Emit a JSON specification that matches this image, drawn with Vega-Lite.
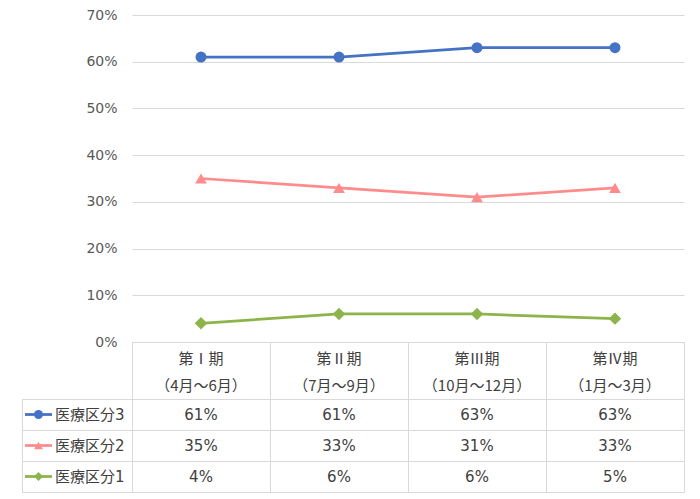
{
  "$schema": "https://vega.github.io/schema/vega-lite/v6.json",
  "autosize": {"type": "pad"},
  "padding": {"left": 19, "top": 8, "right": 15, "bottom": 7},
  "background": "white",
  "config": {
    "view": {"stroke": null},
    "font": "DejaVu Sans, Noto Sans CJK JP",
    "text": {"font": "DejaVu Sans, Noto Sans CJK JP"}
  },
  "datasets": {
    "rates": [
      {"period": "第Ⅰ期", "series": "医療区分3", "value": 0.61},
      {"period": "第Ⅱ期", "series": "医療区分3", "value": 0.61},
      {"period": "第Ⅲ期", "series": "医療区分3", "value": 0.63},
      {"period": "第Ⅳ期", "series": "医療区分3", "value": 0.63},
      {"period": "第Ⅰ期", "series": "医療区分2", "value": 0.35},
      {"period": "第Ⅱ期", "series": "医療区分2", "value": 0.33},
      {"period": "第Ⅲ期", "series": "医療区分2", "value": 0.31},
      {"period": "第Ⅳ期", "series": "医療区分2", "value": 0.33},
      {"period": "第Ⅰ期", "series": "医療区分1", "value": 0.04},
      {"period": "第Ⅱ期", "series": "医療区分1", "value": 0.06},
      {"period": "第Ⅲ期", "series": "医療区分1", "value": 0.06},
      {"period": "第Ⅳ期", "series": "医療区分1", "value": 0.05}
    ],
    "periods": [
      {"period": "第Ⅰ期", "label": "第Ⅰ期\n（4月～6月）"},
      {"period": "第Ⅱ期", "label": "第Ⅱ期\n（7月～9月）"},
      {"period": "第Ⅲ期", "label": "第Ⅲ期\n（10月～12月）"},
      {"period": "第Ⅳ期", "label": "第Ⅳ期\n（1月～3月）"}
    ],
    "seriesList": [
      {"series": "医療区分3"},
      {"series": "医療区分2"},
      {"series": "医療区分1"}
    ]
  },
  "columns": 2,
  "spacing": 0,
  "bounds": "flush",
  "concat": [
    {
      "width": 110, "height": 327,
      "data": {"values": [{}]},
      "mark": {"type": "text"},
      "encoding": {"text": {"value": ""}}
    },
    {
      "width": 552, "height": 327,
      "data": {"name": "rates"},
      "encoding": {
        "x": {"field": "period", "type": "nominal", "sort": ["第Ⅰ期", "第Ⅱ期", "第Ⅲ期", "第Ⅳ期"], "scale": {"type": "point", "padding": 0.5}, "axis": null},
        "y": {
          "field": "value", "type": "quantitative",
          "scale": {"domain": [0, 0.7]},
          "axis": {"values": [0, 0.1, 0.2, 0.3, 0.4, 0.5, 0.6, 0.7], "format": ".0%", "grid": true, "gridColor": "#d9d9d9", "gridWidth": 1, "domain": false, "ticks": false, "tickSize": 0, "labelPadding": 15, "labelFontSize": 14, "labelColor": "#595959", "title": null}
        },
        "color": {"field": "series", "type": "nominal", "scale": {"domain": ["医療区分3", "医療区分2", "医療区分1"], "range": ["#4472C4", "#FF8C8C", "#8CB44A"]}, "legend": null}
      },
      "layer": [
        {"mark": {"type": "line", "strokeWidth": 2.75}},
        {
          "mark": {"type": "point", "filled": true, "opacity": 1},
          "encoding": {
            "shape": {"field": "series", "type": "nominal", "scale": {"domain": ["医療区分3", "医療区分2", "医療区分1"], "range": ["circle", "triangle-up", "diamond"]}, "legend": null},
            "size": {"field": "series", "type": "nominal", "scale": {"domain": ["医療区分3", "医療区分2", "医療区分1"], "range": [120, 155, 115]}, "legend": null}
          }
        }
      ]
    },
    {
      "width": 110, "height": 57,
      "data": {"values": [{}]},
      "mark": {"type": "text"},
      "encoding": {"text": {"value": ""}}
    },
    {
      "width": 552, "height": 57,
      "view": {"stroke": "#d9d9d9"},
      "data": {"name": "periods"},
      "mark": {"type": "text", "lineBreak": "\n", "lineHeight": 27, "fontSize": 15, "color": "#404040", "baseline": "middle", "dy": -12, "font": "Noto Sans CJK JP"},
      "encoding": {
        "x": {"field": "period", "type": "nominal", "sort": ["第Ⅰ期", "第Ⅱ期", "第Ⅲ期", "第Ⅳ期"], "scale": {"type": "band", "paddingInner": 0, "paddingOuter": 0}, "axis": {"grid": true, "bandPosition": 0, "gridColor": "#d9d9d9", "labels": false, "ticks": false, "domain": false, "title": null}},
        "text": {"field": "label"}
      }
    },
    {
      "width": 110, "height": 93,
      "view": {"stroke": "#d9d9d9"},
      "data": {"name": "seriesList"},
      "encoding": {
        "y": {"field": "series", "type": "nominal", "sort": ["医療区分3", "医療区分2", "医療区分1"], "scale": {"type": "band", "paddingInner": 0, "paddingOuter": 0}, "axis": {"grid": true, "bandPosition": 0, "gridColor": "#d9d9d9", "labels": false, "ticks": false, "domain": false, "title": null}},
        "color": {"field": "series", "type": "nominal", "scale": {"domain": ["医療区分3", "医療区分2", "医療区分1"], "range": ["#4472C4", "#FF8C8C", "#8CB44A"]}, "legend": null}
      },
      "layer": [
        {"mark": {"type": "point", "shape": "stroke", "size": 729, "strokeWidth": 2.75, "filled": false, "opacity": 1, "xOffset": -38.5}},
        {
          "mark": {"type": "point", "filled": true, "opacity": 1, "size": 80, "xOffset": -38.5},
          "encoding": {"shape": {"field": "series", "type": "nominal", "scale": {"domain": ["医療区分3", "医療区分2", "医療区分1"], "range": ["circle", "triangle-up", "diamond"]}, "legend": null}}
        },
        {
          "mark": {"type": "text", "align": "left", "dx": -22, "fontSize": 15, "baseline": "middle"},
          "encoding": {"text": {"field": "series"}, "color": {"value": "#404040"}}
        }
      ]
    },
    {
      "width": 552, "height": 93,
      "view": {"stroke": "#d9d9d9"},
      "data": {"name": "rates"},
      "mark": {"type": "text", "fontSize": 15, "color": "#404040", "baseline": "middle"},
      "encoding": {
        "x": {"field": "period", "type": "nominal", "sort": ["第Ⅰ期", "第Ⅱ期", "第Ⅲ期", "第Ⅳ期"], "scale": {"type": "band", "paddingInner": 0, "paddingOuter": 0}, "axis": {"grid": true, "bandPosition": 0, "gridColor": "#d9d9d9", "labels": false, "ticks": false, "domain": false, "title": null}},
        "y": {"field": "series", "type": "nominal", "sort": ["医療区分3", "医療区分2", "医療区分1"], "scale": {"type": "band", "paddingInner": 0, "paddingOuter": 0}, "axis": {"grid": true, "bandPosition": 0, "gridColor": "#d9d9d9", "labels": false, "ticks": false, "domain": false, "title": null}},
        "text": {"field": "value", "format": ".0%"}
      }
    }
  ]
}
